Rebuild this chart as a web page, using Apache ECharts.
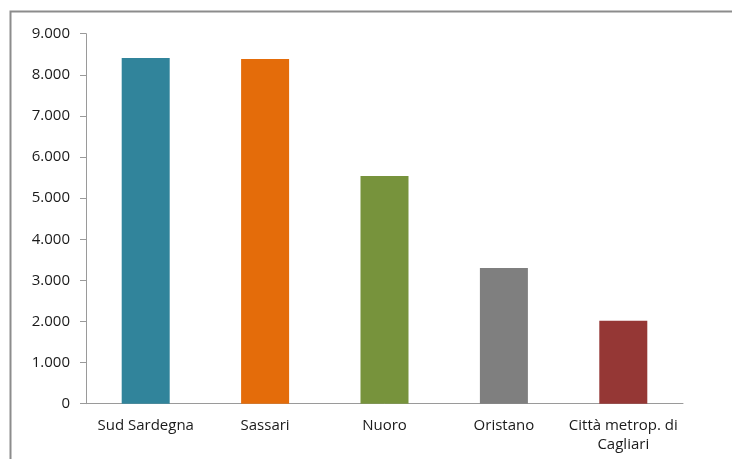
<!DOCTYPE html>
<html>
<head>
<meta charset="utf-8">
<script src="https://cdn.jsdelivr.net/npm/echarts@6/dist/echarts.min.js"></script>
<style>html,body{margin:0;padding:0;background:#fff;}#c{width:732px;height:459px;}</style>
</head>
<body>
<div id="c"></div>
<script>
var categories = ['Sud Sardegna', 'Sassari', 'Nuoro', 'Oristano', 'Città metrop. di\nCagliari'];
var values = [8410, 8385, 5540, 3300, 2020];
var colors = ['#31849b', '#e46c0a', '#77933c', '#7f7f7f', '#953735'];
var yTicks = { min: 0, max: 9000, interval: 1000 };

var chart = echarts.init(document.getElementById('c'));
chart.setOption({
  animation: false,
  backgroundColor: '#fff',
  textStyle: { fontFamily: 'Open Sans' },
  graphic: [{
    type: 'rect', left: 8, top: 9,
    shape: { width: 800, height: 500 },
    style: { fill: 'none', stroke: '#8c8c8c', lineWidth: 2 }
  }],
  grid: { left: 86, right: 49, top: 33.7, bottom: 55.3, containLabel: false },
  xAxis: {
    type: 'category',
    data: categories,
    axisLine: { lineStyle: { color: '#9a9a9a', width: 1 } },
    axisTick: { alignWithLabel: false, length: 6, lineStyle: { color: '#9a9a9a' } },
    axisLabel: { color: '#1a1a1a', fontSize: 15, margin: 13, lineHeight: 19, interval: 0 }
  },
  yAxis: {
    type: 'value',
    min: yTicks.min, max: yTicks.max, interval: yTicks.interval,
    axisLine: { show: true, lineStyle: { color: '#9a9a9a', width: 1 } },
    axisTick: { show: true, length: 6, lineStyle: { color: '#9a9a9a' } },
    splitLine: { show: false },
    axisLabel: {
      color: '#1a1a1a', fontSize: 15, margin: 16,
      formatter: function (v) { return v === 0 ? '0' : (v / 1000).toFixed(3); }
    }
  },
  series: [{
    type: 'bar',
    data: values.map(function (v, i) { return { value: v, itemStyle: { color: colors[i] } }; }),
    barWidth: 48
  }]
});
</script>
</body>
</html>
